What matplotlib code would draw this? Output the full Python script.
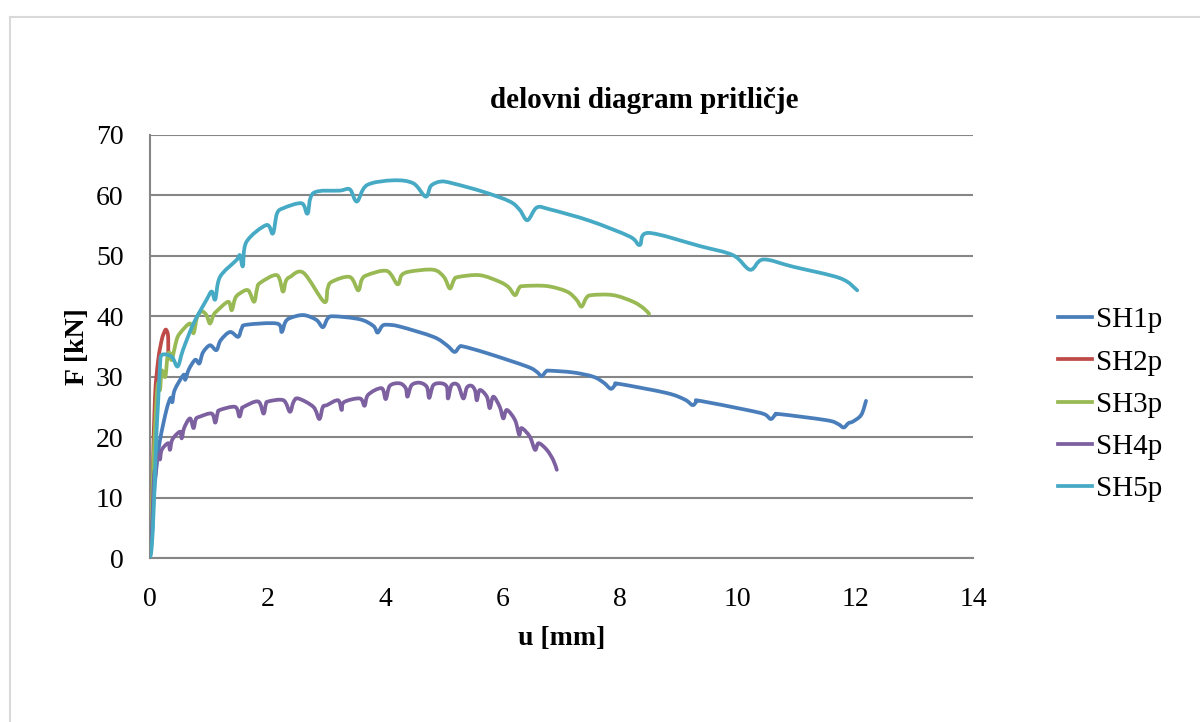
import matplotlib
matplotlib.use("Agg")
import matplotlib.pyplot as plt
from matplotlib.lines import Line2D
from matplotlib.path import Path
from matplotlib.patches import PathPatch
import numpy as np

# ---------------- data ----------------
sh1_u = [0, 0.045, 0.06, 0.11, 0.17, 0.28, 0.35, 0.38, 0.42, 0.57, 0.60, 0.66, 0.77, 0.84, 0.90,
         1.02, 1.13, 1.20, 1.36, 1.50, 1.56, 1.64, 2.16, 2.24, 2.30, 2.38, 2.61, 2.83, 2.94, 3.02,
         3.12, 3.57, 3.80, 3.87, 3.95, 4.03, 4.25, 4.82, 5.05, 5.18, 5.26, 5.33, 5.73, 6.41, 6.58,
         6.66, 6.74, 6.80, 7.20, 7.54, 7.72, 7.84, 7.92, 7.99, 8.79, 9.10, 9.23, 9.30, 9.36, 10.15,
         10.45, 10.56, 10.64, 10.72, 11.51, 11.70, 11.80, 11.88, 11.96, 12.10, 12.18]
sh1_f = [0, 5.2, 9.6, 15.0, 19.5, 24.5, 26.5, 25.8, 27.8, 30.3, 29.5, 31.2, 32.8, 32.2, 34.0,
         35.2, 34.4, 36.0, 37.4, 36.6, 38.0, 38.6, 38.8, 37.4, 39.0, 39.7, 40.2, 39.4, 38.2, 39.6,
         40.0, 39.5, 38.4, 37.3, 38.4, 38.6, 38.3, 36.6, 35.2, 34.1, 34.9, 35.0, 33.9, 31.7, 30.8,
         30.1, 30.9, 31.0, 30.7, 30.0, 29.0, 28.0, 28.7, 28.8, 27.3, 26.2, 25.3, 25.9, 26.0, 24.5,
         23.8, 23.0, 23.7, 23.8, 22.8, 22.2, 21.6, 22.3, 22.6, 23.7, 26.0]

sh2_u = [0, 0.03, 0.05, 0.085, 0.14, 0.20, 0.24, 0.27, 0.30, 0.31, 0.31]
sh2_f = [0, 8.0, 15.0, 26.7, 32.8, 36.1, 37.3, 37.8, 37.2, 36.1, 33.0]

sh3_u = [0, 0.03, 0.06, 0.11, 0.14, 0.17, 0.20, 0.26, 0.30, 0.34, 0.37, 0.45, 0.51, 0.68, 0.74,
         0.80, 0.88, 0.96, 1.02, 1.08, 1.13, 1.33, 1.39, 1.45, 1.53, 1.67, 1.77, 1.82, 1.87, 2.16,
         2.26, 2.31, 2.38, 2.61, 2.96, 3.02, 3.09, 3.40, 3.54, 3.60, 3.69, 4.03, 4.21, 4.28, 4.42,
         4.82, 5.00, 5.10, 5.17, 5.24, 5.61, 5.95, 6.10, 6.21, 6.28, 6.35, 6.75, 7.09, 7.25, 7.34,
         7.42, 7.51, 7.88, 8.22, 8.40, 8.49]
sh3_f = [0, 8.0, 16.2, 26.1, 29.0, 27.8, 31.0, 30.0, 33.5, 33.9, 32.8, 36.0, 37.2, 38.8, 37.2,
         39.8, 40.8, 40.2, 38.8, 40.2, 40.8, 42.4, 41.0, 43.0, 43.8, 44.3, 42.4, 44.5, 45.5, 46.8,
         44.1, 45.8, 46.5, 47.2, 42.4, 44.5, 45.7, 46.5, 44.3, 46.0, 46.8, 47.5, 45.3, 46.8, 47.4,
         47.7, 46.5, 44.6, 46.0, 46.5, 46.8, 45.7, 44.8, 43.5, 44.7, 45.0, 45.0, 44.1, 42.8, 41.6,
         43.0, 43.5, 43.5, 42.4, 41.3, 40.4]

sh4_u = [0, 0.03, 0.06, 0.08, 0.09, 0.11, 0.15, 0.17, 0.20, 0.31, 0.34, 0.38, 0.51, 0.54, 0.58,
         0.68, 0.74, 0.78, 0.85, 1.05, 1.11, 1.15, 1.19, 1.45, 1.52, 1.56, 1.59, 1.84, 1.93, 1.97,
         2.01, 2.27, 2.38, 2.44, 2.52, 2.78, 2.88, 2.94, 3.01, 3.20, 3.26, 3.30, 3.57, 3.65, 3.71,
         3.94, 4.01, 4.08, 4.25, 4.35, 4.38, 4.45, 4.59, 4.71, 4.75, 4.82, 4.96, 5.05, 5.07, 5.13,
         5.24, 5.33, 5.39, 5.47, 5.53, 5.56, 5.61, 5.73, 5.78, 5.84, 5.95, 6.01, 6.07, 6.21, 6.28,
         6.32, 6.46, 6.55, 6.61, 6.75, 6.86, 6.92]
sh4_f = [0, 4.0, 11.8, 14.5, 13.5, 15.7, 17.2, 16.3, 17.9, 19.0, 17.9, 19.6, 20.9, 19.8, 21.5,
         23.1, 21.5, 23.0, 23.4, 23.9, 22.4, 24.0, 24.5, 25.0, 23.4, 24.6, 25.0, 25.9, 23.9, 25.4,
         25.9, 26.1, 24.2, 25.8, 26.4, 25.0, 23.0, 25.0, 25.3, 26.1, 24.5, 25.8, 26.4, 25.2, 27.0,
         28.1, 26.3, 28.5, 28.9, 28.1, 26.7, 28.6, 29.0, 28.3, 26.5, 28.6, 28.9, 28.3, 26.4, 28.6,
         28.6, 26.4, 28.2, 28.5, 27.7, 26.1, 27.8, 26.7, 24.8, 26.7, 25.0, 23.1, 24.5, 22.8, 20.4,
         21.5, 20.1, 17.9, 19.0, 17.9, 16.2, 14.6]

sh5_u = [0, 0.03, 0.06, 0.085, 0.11, 0.14, 0.17, 0.20, 0.37, 0.47, 0.56, 0.74, 0.96, 1.05, 1.11,
         1.19, 1.47, 1.53, 1.58, 1.64, 1.98, 2.09, 2.16, 2.27, 2.58, 2.68, 2.78, 3.23, 3.40, 3.52,
         3.69, 4.14, 4.48, 4.69, 4.78, 4.95, 5.15, 5.67, 6.12, 6.29, 6.42, 6.58, 6.80, 7.48, 8.16,
         8.33, 8.48, 9.36, 9.92, 10.21, 10.43, 10.94, 11.74, 12.03]
sh5_f = [0, 1.9, 7.4, 14.0, 20.7, 26.1, 31.7, 33.6, 33.3, 31.7, 34.4, 38.8, 42.7, 44.1, 42.8,
         46.5, 49.3, 50.1, 48.3, 52.3, 55.1, 53.7, 57.0, 57.9, 58.7, 57.0, 60.4, 60.8, 61.0, 59.0,
         61.7, 62.5, 62.0, 59.8, 61.6, 62.3, 62.0, 60.6, 59.0, 57.6, 55.9, 58.0, 57.7, 55.8, 53.2,
         51.8, 53.8, 51.6, 50.1, 47.7, 49.4, 48.2, 46.3, 44.3]

series_names = ["SH1p", "SH2p", "SH3p", "SH4p", "SH5p"]
x_ticks = [0, 2, 4, 6, 8, 10, 12, 14]
y_ticks = [0, 10, 20, 30, 40, 50, 60, 70]
title = "delovni diagram pritličje"
x_label = "u [mm]"
y_label = "F [kN]"


def smooth_path(u, f):
    """Excel-like smoothed line: cubic Bezier segments through the data points."""
    p = np.column_stack([u, f]).astype(float)
    n = len(p)
    verts = [p[0]]
    codes = [Path.MOVETO]
    for i in range(n - 1):
        p0 = p[i - 1] if i > 0 else p[i]
        p1, p2 = p[i], p[i + 1]
        p3 = p[i + 2] if i + 2 < n else p[i + 1]
        c1 = p1 + (p2 - p0) / 6.0
        c2 = p2 - (p3 - p1) / 6.0
        verts += [c1, c2, p2]
        codes += [Path.CURVE4] * 3
    return Path(verts, codes)


# ---------------- plot ----------------
plt.rcParams['font.family'] = ['Liberation Serif', 'DejaVu Serif']
colors = ["#4A7EBB", "#BE4B48", "#98B954", "#7D60A0", "#46AAC5"]
data = [(sh1_u, sh1_f), (sh2_u, sh2_f), (sh3_u, sh3_f), (sh4_u, sh4_f), (sh5_u, sh5_f)]
LW = 2.7

fig = plt.figure(figsize=(12, 7.22), dpi=100)
ax = fig.add_axes([150/1200, 1-558/722, (973-150)/1200, (558-135)/722])

for (u, f), c in zip(data, colors):
    patch = PathPatch(smooth_path(u, f), fill=False, edgecolor=c, lw=LW,
                      joinstyle='round', capstyle='round', zorder=3)
    ax.add_patch(patch)

ax.set_xlim(0, 14)
ax.set_ylim(0, 70)
ax.set_xticks(x_ticks)
ax.set_yticks(y_ticks)
ax.yaxis.grid(True, color="#868686", lw=1.5)
ax.set_axisbelow(True)
for s in ["top", "right"]:
    ax.spines[s].set_visible(False)
for s in ["left", "bottom"]:
    ax.spines[s].set_color("#868686")
    ax.spines[s].set_linewidth(1.5)
ax.tick_params(axis='both', length=0, labelsize=20, colors="black")
ax.tick_params(axis='y', pad=19)
ax.tick_params(axis='x', pad=21)

ax.set_xlabel(x_label, fontsize=20, fontweight='bold', labelpad=10)
ax.set_ylabel(y_label, fontsize=20, fontweight='bold', labelpad=4.5)
fig.text(644/1200, 1-101/722, title, fontsize=21, fontweight='bold', ha='center', va='center')

handles = [Line2D([0], [0], color=c, lw=LW) for c in colors]
fig.legend(handles, series_names, loc='upper left', bbox_to_anchor=(1058/1200, 1-307/722),
           frameon=False, fontsize=21, handlelength=1.15, handletextpad=0.15, labelspacing=0.54,
           borderpad=0, borderaxespad=0)

# outer frame
fig.add_artist(Line2D([10/1200, 1], [1-17/722, 1-17/722], transform=fig.transFigure, color="#d9d9d9", lw=1.5))
fig.add_artist(Line2D([10/1200, 10/1200], [0, 1-17/722], transform=fig.transFigure, color="#d9d9d9", lw=1.5))

fig.savefig("out.png", dpi=100)
